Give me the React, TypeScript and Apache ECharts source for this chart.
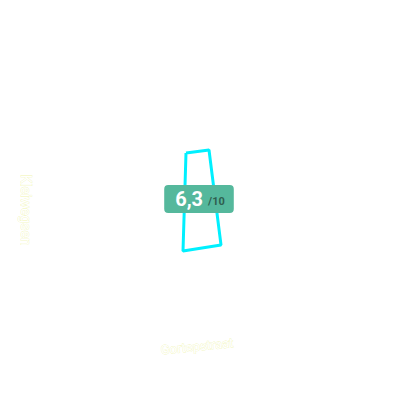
import React, { useEffect, useRef } from 'react';
import * as echarts from 'echarts';

// polygon corners (x, y) in chart units, closed back to the first one
const xValues = [-1.4, 0.9, 2.1, -1.7, -1.4];
const yValues = [4.7, 5.0, -4.5, -5.1, 4.7];

const xName = 'Gortepstraat';
const yName = 'Kleiwegsen';
const score = '6,3';
const scoreMax = '/10';

const nameStyle = {
  color: '#ffffff',
  textBorderColor: '#f0f5b0',
  textBorderWidth: 0.6,
  fontSize: 13,
  fontFamily: 'Roboto',
  align: 'center',
  verticalAlign: 'middle',
};

const App: React.FC = () => {
  const chartRef = useRef<HTMLDivElement>(null);

  useEffect(() => {
    document.body.style.margin = '0';
    const chart = echarts.init(chartRef.current, null, { renderer: 'svg' });

    const option = {
      animation: false,
      title: {
        text: `{a|${score}} {b|${scoreMax}}`,
        left: 'center',
        top: 185,
        backgroundColor: '#55b89c',
        borderRadius: 4,
        padding: [4, 9, 4, 11],
        textStyle: {
          rich: {
            a: { fontSize: 20, fontWeight: 'bold', color: '#fff', fontFamily: 'Roboto' },
            b: { fontSize: 11, color: '#2f5f50', fontFamily: 'Roboto', padding: [4, 0, 0, 0] },
          },
        },
      },
      grid: { left: 40, right: 40, top: 40, bottom: 40 },
      xAxis: {
        type: 'value',
        min: -16,
        max: 16,
        name: xName,
        nameLocation: 'middle',
        nameGap: -14,
        nameRotate: 6,
        nameTextStyle: { ...nameStyle, padding: [0, 6, 0, 0] },
        axisLine: { show: false, onZero: false },
        axisTick: { show: false },
        axisLabel: { show: false },
        splitLine: { show: false },
      },
      yAxis: {
        type: 'value',
        min: -16,
        max: 16,
        name: yName,
        nameLocation: 'middle',
        nameGap: 14,
        nameRotate: -90,
        nameTextStyle: { ...nameStyle, fontSize: 14, padding: [0, 0, 0, 20] },
        axisLine: { show: false, onZero: false },
        axisTick: { show: false },
        axisLabel: { show: false },
        splitLine: { show: false },
      },
      series: [{
        type: 'line',
        data: xValues.map((x, i) => [x, yValues[i]]),
        symbol: 'none',
        lineStyle: { color: '#00f0ff', width: 3 },
        z: 1,
      }],
    };

    chart.setOption(option);

    return () => {
      chart.dispose();
    };
  }, []);

  return <div ref={chartRef} style={{ width: '400px', height: '400px' }} />;
};

export default App;
